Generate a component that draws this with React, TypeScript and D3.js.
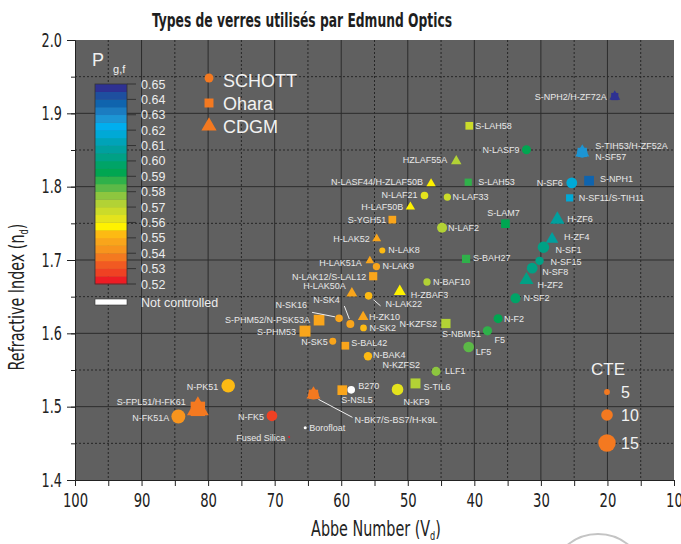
import React, { useEffect, useRef } from 'react';
import * as d3 from 'd3';

// glass catalogue (S = SCHOTT, O = Ohara, C = CDGM)
const glassNames = [
  'S-NPH2/H-ZF72A', 'S-TIH53/H-ZF52A', 'N-SF6', 'S-NPH1', 'N-SF11/S-TIH11', 'H-ZF6', 'H-ZF4', 'N-SF1',
  'N-SF15', 'N-SF8', 'H-ZF2', 'N-SF2', 'N-F2', 'F5', 'LF5', 'LLF1', 'S-NBM51', 'S-TIL6', 'N-KF9', 'B270',
  'S-NSL5', 'N-BK7/S-BS7/H-K9L', 'Borofloat', 'Fused Silica', 'N-FK5', 'N-PK51', 'N-FK51A', 'S-FPL51/H-FK61',
  'N-SK5', 'S-BAL42', 'N-BAK4', 'N-SK2', 'H-ZK10', 'N-SK4', 'N-SK16', 'S-PHM52/N-PSK53A', 'S-PHM53',
  'H-LAK50A', 'N-LAK22', 'H-ZBAF3', 'N-LAK12/S-LAL12', 'H-LAK51A', 'N-LAK9', 'N-LAK8', 'H-LAK52', 'S-YGH51',
  'H-LAF50B', 'N-LAF21', 'N-LASF44/H-ZLAF50B', 'N-LAF33', 'N-LAF2', 'S-BAH27', 'N-BAF10', 'S-LAM7',
  'N-LASF9', 'S-LAH53', 'HZLAF55A', 'S-LAH58',
];
const abbeNumbers = [
  18.9, 23.78, 25.36, 22.76, 25.68, 27.53, 28.32, 29.62,
  30.2, 31.31, 32.17, 33.82, 36.43, 38.03, 40.85, 45.75, 44.27, 48.84, 51.54, 58.5,
  59.84, 64.17, 65.41, 67.82, 70.41, 76.98, 84.47, 81.54,
  61.27, 59.38, 55.98, 56.65, 56.71, 58.63, 60.32, 63.33, 65.44,
  58.4, 55.89, 51.2, 55.2, 55.7, 54.71, 53.83, 54.67, 52.32,
  49.61, 47.49, 46.5, 44.05, 44.85, 41.24, 47.11, 35.33,
  32.17, 40.92, 42.72, 40.76,
];
const refractiveIndex = [
  1.9229, 1.8467, 1.8052, 1.8081, 1.7847, 1.7552, 1.7283, 1.7174,
  1.6989, 1.6889, 1.6727, 1.6477, 1.62, 1.6034, 1.5814, 1.5481, 1.6134, 1.5317, 1.5235, 1.523,
  1.5225, 1.5168, 1.4714, 1.4585, 1.4875, 1.5286, 1.4866, 1.497,
  1.5891, 1.5831, 1.5688, 1.6074, 1.6223, 1.6127, 1.6204, 1.618, 1.603,
  1.6545, 1.6511, 1.657, 1.6779, 1.699, 1.691, 1.713, 1.7292, 1.755,
  1.7725, 1.788, 1.8042, 1.7858, 1.744, 1.7015, 1.67, 1.7495,
  1.8503, 1.8061, 1.8348, 1.883,
];
// partial dispersion P g,F (null = not controlled)
const partialDispersion: (number | null)[] = [
  0.648, 0.626, 0.617, 0.637, 0.617, 0.608, 0.606, 0.604,
  0.602, 0.601, 0.601, 0.597, 0.592, 0.586, 0.582, 0.577, 0.571, 0.571, 0.563, null,
  0.547, 0.537, null, 0.522, 0.527, 0.552, 0.543, 0.537,
  0.547, 0.547, 0.552, 0.552, 0.546, 0.547, 0.547, 0.547, 0.547,
  0.546, 0.553, 0.557, 0.547, 0.546, 0.548, 0.553, 0.546, 0.547,
  0.557, 0.562, 0.557, 0.567, 0.574, 0.587, 0.574, 0.592,
  0.592, 0.587, 0.572, 0.568,
];
const cteValues = [
  7, 9, 9.3, 9.5, 7, 9.2, 8, 10,
  7.2, 9.2, 9, 8.6, 7.8, 8, 9.2, 7.8, 9, 9.7, 10, 6.6,
  9.4, 9, 2.6, 1.7, 9.2, 11.7, 12, 14,
  6, 7.5, 7.2, 5.8, 6.8, 6.9, 6.6, 10.4, 10.7,
  7, 6.6, 7.7, 8, 5.5, 6.3, 5.2, 5.7, 7.5,
  6, 6.6, 6, 6.3, 8.6, 8, 6.3, 8.4,
  7.8, 7, 6.7, 7.5,
];
const suppliers = [
  'OC', 'SOC', 'S', 'O', 'O', 'C', 'C', 'S',
  'S', 'S', 'C', 'S', 'S', 'S', 'S', 'S', 'O', 'O', 'S', 'S',
  'O', 'SOC', 'S', 'S', 'S', 'S', 'S', 'OC',
  'S', 'O', 'S', 'S', 'C', 'S', 'S', 'O', 'O',
  'C', 'S', 'C', 'O', 'C', 'S', 'S', 'C', 'O',
  'C', 'S', 'C', 'S', 'S', 'O', 'S', 'O',
  'S', 'O', 'C', 'O',
];

const pgfTicks = [0.65, 0.64, 0.63, 0.62, 0.61, 0.6, 0.59, 0.58, 0.57, 0.56, 0.55, 0.54, 0.53, 0.52];
// colour bands of 0.005 from 0.52 upwards
const bandColors = [
  '#ed1c24', '#ef4123', '#f15a22', '#f47920', '#f7941d', '#f9a51b', '#fdba13', '#fff200',
  '#e4e31d', '#cbdb2a', '#b2d235', '#8dc63f', '#5cb947', '#2fb14a', '#00a651', '#00a467',
  '#00a185', '#00a09e', '#00a3b8', '#00a9d6', '#00aeef', '#1c95d4', '#1b7cc1', '#0f64ae',
  '#1e4f9f', '#2e3192',
];
const supplierNames = ['SCHOTT', 'Ohara', 'CDGM'];
const cteLegend = [5, 10, 15];
const xTicks = [100, 90, 80, 70, 60, 50, 40, 30, 20, 10];
const yTicks = [1.4, 1.5, 1.6, 1.7, 1.8, 1.9, 2.0];

// label placement relative to marker: [dx, dy, anchor]
const labelPlacement: Record<string, [number, number, string]> = {
  'S-NPH2/H-ZF72A': [-8, 3, 'end'], 'S-TIH53/H-ZF52A': [13, -3, 'start'], 'N-SF6': [-9, 3, 'end'],
  'S-NPH1': [11, 1, 'start'], 'N-SF11/S-TIH11': [9, 3, 'start'], 'H-ZF6': [10, 2, 'start'],
  'H-ZF4': [12, 1, 'start'], 'N-SF1': [12, 6, 'start'], 'N-SF15': [11, 4, 'start'], 'N-SF8': [10, 7, 'start'],
  'H-ZF2': [11, 8, 'start'], 'N-SF2': [8, 3, 'start'], 'N-F2': [6, 3, 'start'], 'F5': [7, 12, 'start'],
  'LF5': [7, 8, 'start'], 'LLF1': [9, 3, 'start'], 'S-NBM51': [-4, 13, 'start'], 'S-TIL6': [8, 7, 'start'],
  'N-KF9': [6, 16, 'start'], 'B270': [7, -1, 'start'], 'S-NSL5': [-1, 13, 'start'],
  'N-BK7/S-BS7/H-K9L': [41, 29, 'start'], 'Borofloat': [4, 3, 'start'], 'Fused Silica': [-4, 4, 'end'],
  'N-FK5': [-8, 4, 'end'], 'N-PK51': [-10, 4, 'end'], 'S-FPL51/H-FK61': [-12, -4, 'end'],
  'N-FK51A': [-9, 5, 'end'], 'N-SK5': [-5, 4, 'end'], 'S-BAL42': [6, 0, 'start'], 'N-BAK4': [5, 2, 'start'],
  'N-SK2': [6, 3, 'start'], 'H-ZK10': [6, 3, 'start'], 'N-SK4': [-37, -21, 'start'], 'N-SK16': [-32, -10, 'end'],
  'S-PHM52/N-PSK53A': [-9, 3, 'end'], 'S-PHM53': [-9, 4, 'end'], 'H-LAK50A': [-6, -4, 'end'],
  'N-LAK22': [17, 11, 'start'], 'H-ZBAF3': [11, 6, 'start'], 'N-LAK12/S-LAL12': [-7, 4, 'end'],
  'H-LAK51A': [-8, 5, 'end'], 'N-LAK9': [6, 2, 'start'], 'N-LAK8': [6, 3, 'start'], 'H-LAK52': [-7, 3, 'end'],
  'S-YGH51': [-6, 3, 'end'], 'H-LAF50B': [-7, 3, 'end'], 'N-LAF21': [-7, 3, 'end'],
  'N-LASF44/H-ZLAF50B': [-8, 1, 'end'], 'N-LAF33': [5, 3, 'start'], 'N-LAF2': [6, 3, 'start'],
  'S-BAH27': [7, 2, 'start'], 'N-BAF10': [6, 3, 'start'], 'S-LAM7': [-2, -8, 'middle'],
  'N-LASF9': [-7, 3, 'end'], 'S-LAH53': [10, 3, 'start'], 'HZLAF55A': [-9, 2, 'end'], 'S-LAH58': [6, 3, 'start'],
};
const extraLabels: { glass: string; text: string; dx: number; dy: number; anchor: string }[] = [
  { glass: 'S-TIH53/H-ZF52A', text: 'N-SF57', dx: 13, dy: 8, anchor: 'start' },
  { glass: 'S-NBM51', text: 'N-KZFS2', dx: -9, dy: 3, anchor: 'end' },
  { glass: 'LLF1', text: 'N-KZFS2', dx: -16, dy: -3, anchor: 'end' },
];
// leader lines: [x1, y1, x2, y2] relative to marker
const leaderLines: Record<string, [number, number, number, number]> = {
  'N-BK7/S-BS7/H-K9L': [5, 5, 39, 23],
  'N-SK4': [-6, -18, -1, -5],
  'N-SK16': [-27, -6, -4, -1.5],
  'N-LAK22': [5, 4, 12, 10],
};

const NARROW = "'Liberation Sans Narrow', 'DejaVu Sans Condensed', sans-serif";
const SANS = "'Liberation Sans', Arial, Helvetica, sans-serif";

// squeeze a condensed label to the narrow width of the original lettering
const narrowWidth = (s: string) => s.split('').reduce((w, ch) => w + (ch === '.' ? 3.6 : 8.4), 0);

const App: React.FC = () => {
  const ref = useRef<SVGSVGElement>(null);

  useEffect(() => {
    const svg = d3.select(ref.current);
    svg.selectAll('*').remove();

    const left = 75, right = 674, top = 40, bottom = 480;
    const x = d3.scaleLinear().domain([100, 10]).range([left, right]);
    const y = d3.scaleLinear().domain([1.4, 2.0]).range([bottom, top]);
    const r = d3.scaleLinear().domain([0, 15]).range([0, 8.7]);
    const color = d3.scaleQuantize<string>().domain([0.52, 0.65]).range(bandColors);

    // title
    svg.append('text')
      .attr('x', 302).attr('y', 27)
      .attr('text-anchor', 'middle')
      .attr('font-family', NARROW).attr('font-weight', 'bold').attr('font-size', 20)
      .attr('textLength', 300).attr('lengthAdjust', 'spacingAndGlyphs')
      .attr('fill', '#1e1e1e')
      .text('Types de verres utilisés par Edmund Optics');

    // plot background
    svg.append('rect')
      .attr('x', left).attr('y', top)
      .attr('width', right - left).attr('height', bottom - top)
      .attr('fill', '#606060');

    // grid
    const grid = svg.append('g');
    d3.range(15, 100, 5).forEach(v => {
      grid.append('line')
        .attr('x1', x(v)).attr('x2', x(v)).attr('y1', top).attr('y2', bottom)
        .attr('stroke', v % 10 === 0 ? '#2c2c2c' : '#262626')
        .attr('stroke-width', 1)
        .attr('stroke-dasharray', v % 10 === 0 ? null : '2,2');
    });
    d3.range(1, 12).forEach(i => {
      const n = 1.4 + i * 0.05;
      grid.append('line')
        .attr('x1', left).attr('x2', right).attr('y1', y(n)).attr('y2', y(n))
        .attr('stroke', i % 2 === 0 ? '#2c2c2c' : '#262626')
        .attr('stroke-width', 1)
        .attr('stroke-dasharray', i % 2 === 0 ? null : '2,2');
    });

    // axes
    const axisStyle = (g: any) => {
      g.select('.domain').attr('stroke', '#222');
      g.selectAll('.tick line').attr('stroke', '#222');
      g.selectAll('text')
        .attr('font-family', NARROW).attr('font-size', 19).attr('fill', '#222')
        .each(function (this: SVGTextElement) {
          const t = this.textContent || '';
          if (t) d3.select(this).attr('textLength', narrowWidth(t)).attr('lengthAdjust', 'spacingAndGlyphs');
        });
    };
    svg.append('g')
      .attr('transform', `translate(0,${bottom})`)
      .call(d3.axisBottom(x).tickValues(d3.range(10, 101, 5)).tickSize(6).tickSizeOuter(0).tickPadding(8)
        .tickFormat((d: any) => (xTicks.includes(+d) ? String(d) : '')))
      .call(axisStyle);
    svg.append('g')
      .attr('transform', `translate(${left},0)`)
      .call(d3.axisLeft(y).tickValues(d3.range(0, 13).map(i => 1.4 + i * 0.05)).tickSize(4).tickSizeOuter(0)
        .tickFormat(() => ''))
      .call(axisStyle);
    svg.append('g')
      .attr('transform', `translate(${left},0)`)
      .call(d3.axisLeft(y).tickValues(yTicks).tickSize(8).tickSizeOuter(0).tickPadding(5)
        .tickFormat(d3.format('.1f')))
      .call(axisStyle);

    // axis titles, squeezed horizontally to the condensed lettering
    const yTitle = svg.append('g')
      .attr('transform', 'translate(24,297) rotate(-90) scale(0.76,1)')
      .append('text')
      .attr('text-anchor', 'middle')
      .attr('font-family', NARROW).attr('font-size', 21).attr('fill', '#222');
    yTitle.append('tspan').text('Refractive Index (n');
    yTitle.append('tspan').attr('font-size', 12).attr('dy', 4).text('d');
    yTitle.append('tspan').attr('dy', -4).text(')');

    const xTitle = svg.append('g')
      .attr('transform', 'translate(376,536) scale(0.76,1)')
      .append('text')
      .attr('text-anchor', 'middle')
      .attr('font-family', NARROW).attr('font-size', 21).attr('fill', '#222');
    xTitle.append('tspan').text('Abbe Number (V');
    xTitle.append('tspan').attr('font-size', 12).attr('dy', 4).text('d');
    xTitle.append('tspan').attr('dy', -4).text(')');

    // colour bar
    const cb = d3.scaleLinear().domain([0.52, 0.65]).range([284, 84]);
    const cbX = 95, cbW = 32;
    bandColors.forEach((c, i) => {
      svg.append('rect')
        .attr('x', cbX).attr('y', cb(0.52 + 0.005 * (i + 1)))
        .attr('width', cbW).attr('height', cb(0.52) - cb(0.525) + 0.3)
        .attr('fill', c);
    });
    svg.append('rect')
      .attr('x', cbX).attr('y', 84).attr('width', cbW).attr('height', 200)
      .attr('fill', 'none').attr('stroke', '#333').attr('stroke-width', 0.8);
    pgfTicks.forEach(p => {
      svg.append('line')
        .attr('x1', cbX + cbW).attr('x2', cbX + cbW + 9).attr('y1', cb(p)).attr('y2', cb(p))
        .attr('stroke', '#333');
      svg.append('text')
        .attr('x', 141).attr('y', cb(p) + 4.5)
        .attr('font-family', SANS).attr('font-size', 12.5).attr('fill', '#ececec')
        .text(p.toFixed(2));
    });
    const pLabel = svg.append('text')
      .attr('x', 92).attr('y', 66)
      .attr('font-family', SANS).attr('font-size', 18).attr('fill', '#f0f0f0');
    pLabel.append('tspan').text('P');
    pLabel.append('tspan').attr('font-size', 11).attr('dx', 9).attr('dy', 7).text('g,f');

    svg.append('rect')
      .attr('x', cbX).attr('y', 299).attr('width', cbW).attr('height', 6)
      .attr('fill', '#fff').attr('stroke', '#333').attr('stroke-width', 0.6);
    svg.append('text')
      .attr('x', 141).attr('y', 307)
      .attr('font-family', SANS).attr('font-size', 12.5).attr('fill', '#ececec')
      .text('Not controlled');

    // supplier legend
    const shapes = [d3.symbolCircle, d3.symbolSquare, d3.symbolTriangle];
    const shapeArea = [62, 80, 100];
    const legendY = [78, 103, 126];
    const legendBase = [87, 110, 133];
    supplierNames.forEach((s, i) => {
      svg.append('path')
        .attr('transform', `translate(209,${legendY[i]})`)
        .attr('d', d3.symbol().type(shapes[i]).size(shapeArea[i])())
        .attr('fill', '#f47920');
      svg.append('text')
        .attr('x', 223).attr('y', legendBase[i])
        .attr('font-family', SANS).attr('font-size', 18).attr('fill', '#f2f2f2')
        .text(s);
    });

    // CTE legend
    svg.append('text')
      .attr('x', 591).attr('y', 375)
      .attr('font-family', SANS).attr('font-size', 17).attr('fill', '#f2f2f2')
      .text('CTE');
    const cteY = [392, 415, 443];
    cteLegend.forEach((c, i) => {
      svg.append('circle')
        .attr('cx', 607).attr('cy', cteY[i]).attr('r', r(c))
        .attr('fill', '#f47920');
      svg.append('text')
        .attr('x', 621).attr('y', cteY[i] + 6)
        .attr('font-family', SANS).attr('font-size', 16).attr('fill', '#f2f2f2')
        .text(String(c));
    });

    // glasses
    const glasses = glassNames.map((name, i) => ({
      name,
      vd: abbeNumbers[i],
      nd: refractiveIndex[i],
      pgf: partialDispersion[i],
      cte: cteValues[i],
      sup: suppliers[i],
    }));

    const marks = svg.append('g');
    glasses.forEach(g => {
      const area = Math.PI * r(g.cte) ** 2;
      const fill = g.pgf === null ? '#ffffff' : color(g.pgf);
      ['S', 'O', 'C'].forEach((s, k) => {
        if (!g.sup.includes(s)) return;
        marks.append('path')
          .attr('transform', `translate(${x(g.vd)},${y(g.nd)})`)
          .attr('d', d3.symbol().type(shapes[k]).size(area)())
          .attr('fill', fill);
      });
    });

    const labels = svg.append('g')
      .attr('font-family', SANS).attr('font-size', 9).attr('fill', '#e8e8e8');
    glasses.forEach(g => {
      const [dx, dy, anchor] = labelPlacement[g.name];
      labels.append('text')
        .attr('x', x(g.vd) + dx).attr('y', y(g.nd) + dy)
        .attr('text-anchor', anchor)
        .text(g.name);
      const l = leaderLines[g.name];
      if (l) {
        labels.append('line')
          .attr('x1', x(g.vd) + l[0]).attr('y1', y(g.nd) + l[1])
          .attr('x2', x(g.vd) + l[2]).attr('y2', y(g.nd) + l[3])
          .attr('stroke', '#f0f0f0').attr('stroke-width', 1);
      }
    });
    extraLabels.forEach(e => {
      const i = glassNames.indexOf(e.glass);
      labels.append('text')
        .attr('x', x(abbeNumbers[i]) + e.dx).attr('y', y(refractiveIndex[i]) + e.dy)
        .attr('text-anchor', e.anchor)
        .text(e.text);
    });

    // faint logo arc at the bottom edge
    svg.append('circle')
      .attr('cx', 598).attr('cy', 582).attr('r', 48)
      .attr('fill', 'none').attr('stroke', '#c4c4c4').attr('stroke-width', 2);
  }, []);

  return (
    <svg
      ref={ref}
      width={681}
      height={544}
      style={{ position: 'absolute', left: 0, top: 0, background: '#fff' }}
    />
  );
};

export default App;
